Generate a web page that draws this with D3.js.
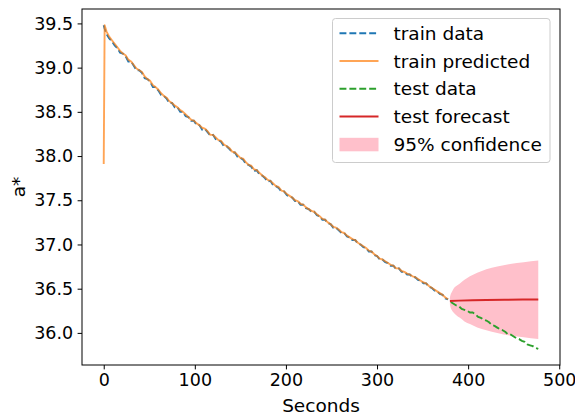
<!DOCTYPE html>
<html>
<head>
<meta charset="utf-8">
<script src="https://cdn.jsdelivr.net/npm/d3@7"></script>
<style>
  body { margin: 0; background: #fff; }
  svg { display: block; font-family: 'DejaVu Sans', sans-serif; }
</style>
</head>
<body>
<script>
// sample times (s) of the training part: 0, 1, then every 3 s
const trainSeconds = [0, 1].concat(d3.range(3, 379, 3))
const trainData = [
  39.48, 39.44, 39.38, 39.33, 39.30, 39.25, 39.22, 39.17, 39.16, 39.13,
  39.07, 39.07, 39.02, 38.97, 38.97, 38.94, 38.88, 38.87, 38.84, 38.78,
  38.78, 38.74, 38.69, 38.68, 38.65, 38.60, 38.60, 38.55, 38.55, 38.50,
  38.50, 38.45, 38.44, 38.40, 38.40, 38.35, 38.35, 38.30, 38.31, 38.27,
  38.23, 38.24, 38.19, 38.18, 38.16, 38.11, 38.11, 38.08, 38.04, 38.04,
  37.99, 37.98, 37.96, 37.91, 37.90, 37.88, 37.83, 37.84, 37.79, 37.78,
  37.75, 37.71, 37.72, 37.67, 37.66, 37.64, 37.60, 37.60, 37.56, 37.54,
  37.53, 37.49, 37.49, 37.45, 37.45, 37.41, 37.40, 37.37, 37.37, 37.33,
  37.32, 37.28, 37.28, 37.24, 37.23, 37.19, 37.19, 37.16, 37.13, 37.13,
  37.09, 37.08, 37.05, 37.05, 37.01, 37.00, 36.97, 36.96, 36.92, 36.92,
  36.88, 36.87, 36.83, 36.83, 36.80, 36.79, 36.76, 36.76, 36.72, 36.73,
  36.69, 36.69, 36.66, 36.66, 36.63, 36.63, 36.60, 36.59, 36.56, 36.56,
  36.52, 36.51, 36.48, 36.47, 36.44, 36.43, 36.39, 36.38
]
const trainPredicted = [
  37.91,
  39.48, 39.41, 39.35, 39.31, 39.27, 39.23, 39.19, 39.16, 39.14, 39.09,
  39.07, 39.03, 38.99, 38.97, 38.95, 38.90, 38.87, 38.85, 38.80, 38.78,
  38.75, 38.71, 38.68, 38.66, 38.62, 38.60, 38.57, 38.55, 38.52, 38.50,
  38.47, 38.44, 38.41, 38.40, 38.37, 38.35, 38.32, 38.31, 38.28, 38.24,
  38.24, 38.21, 38.18, 38.17, 38.13, 38.11, 38.09, 38.05, 38.04, 38.01,
  37.98, 37.97, 37.93, 37.90, 37.89, 37.85, 37.84, 37.81, 37.78, 37.76,
  37.73, 37.72, 37.69, 37.66, 37.65, 37.61, 37.60, 37.57, 37.55, 37.53,
  37.50, 37.49, 37.46, 37.45, 37.42, 37.40, 37.38, 37.37, 37.34, 37.32,
  37.29, 37.28, 37.25, 37.23, 37.20, 37.19, 37.17, 37.14, 37.13, 37.10,
  37.08, 37.06, 37.05, 37.02, 37.00, 36.98, 36.96, 36.93, 36.92, 36.89,
  36.87, 36.84, 36.83, 36.81, 36.79, 36.77, 36.76, 36.73, 36.73, 36.70,
  36.69, 36.67, 36.66, 36.64, 36.63, 36.61, 36.59, 36.57, 36.56, 36.53,
  36.51, 36.49, 36.47, 36.45, 36.43, 36.40, 36.38
]

const testSeconds = d3.range(381, 478, 3)
const testData = [
  36.35, 36.33, 36.31, 36.30, 36.27, 36.26, 36.25, 36.23, 36.23, 36.21,
  36.18, 36.17, 36.15, 36.14, 36.12, 36.09, 36.08, 36.06, 36.04, 36.03,
  36.01, 35.98, 35.98, 35.96, 35.94, 35.93, 35.91, 35.90, 35.87, 35.86,
  35.85, 35.83, 35.82
]

const forecastSeconds = [380, 390, 405, 420, 440, 460, 477]
const forecastValues = [36.360, 36.365, 36.370, 36.372, 36.375, 36.377, 36.378]

const ciSeconds = [380, 381, 382, 384, 387, 391, 396, 402, 410, 420, 432, 446, 461, 477]
const ciUpper = [36.40, 36.44, 36.46, 36.50, 36.53, 36.56, 36.60, 36.64, 36.68, 36.72, 36.75, 36.78, 36.80, 36.82]
const ciLower = [36.32, 36.28, 36.26, 36.23, 36.20, 36.17, 36.13, 36.10, 36.06, 36.03, 36.00, 35.97, 35.95, 35.93]

const xTicks = [0, 100, 200, 300, 400, 500]
const yTicks = [36.0, 36.5, 37.0, 37.5, 38.0, 38.5, 39.0, 39.5]

const legendItems = [
  {label: 'train data', color: '#1f77b4', dash: '6.9,3', kind: 'line'},
  {label: 'train predicted', color: '#ff7f0e', opacity: 0.7, kind: 'line'},
  {label: 'test data', color: '#2ca02c', dash: '6.9,3', kind: 'line'},
  {label: 'test forecast', color: '#d62728', kind: 'line'},
  {label: '95% confidence', color: 'pink', kind: 'patch'}
]

const W = 575
const H = 416
const plot = {left: 82, right: 560, top: 9, bottom: 365}

// matplotlib style 5% margins around the data extent
const xExt = [0, 477]
const yExt = d3.extent(trainData.concat(testData, ciUpper, ciLower))
const xPad = (xExt[1] - xExt[0]) * 0.05
const yPad = (yExt[1] - yExt[0]) * 0.05

const x = d3.scaleLinear().domain([xExt[0] - xPad, xExt[1] + xPad]).range([plot.left, plot.right])
const y = d3.scaleLinear().domain([yExt[0] - yPad, yExt[1] + yPad]).range([plot.bottom, plot.top])

const svg = d3.select('body').append('svg').attr('width', W).attr('height', H)

const clip = svg.append('clipPath').attr('id', 'clip')
clip.append('rect').attr('x', plot.left).attr('y', plot.top)
  .attr('width', plot.right - plot.left).attr('height', plot.bottom - plot.top)

const g = svg.append('g').attr('clip-path', 'url(#clip)')

const line = d3.line().x(d => x(d[0])).y(d => y(d[1]))
const zip = (a, b) => a.map((v, i) => [v, b[i]])

// confidence band
const area = d3.area()
  .x((d, i) => x(ciSeconds[i]))
  .y0((d, i) => y(ciLower[i]))
  .y1((d, i) => y(ciUpper[i]))
  .curve(d3.curveMonotoneX)
g.append('path').datum(ciSeconds).attr('d', area).attr('fill', 'pink')

g.append('path').datum(zip(trainSeconds, trainData)).attr('d', line)
  .attr('fill', 'none').attr('stroke', '#1f77b4').attr('stroke-width', 1.9)
  .attr('stroke-dasharray', '6.9,3')

g.append('path').datum(zip(trainSeconds, trainPredicted)).attr('d', line)
  .attr('fill', 'none').attr('stroke', '#ff7f0e').attr('stroke-opacity', 0.7)
  .attr('stroke-width', 1.9).attr('stroke-linejoin', 'round')

g.append('path').datum(zip(testSeconds, testData)).attr('d', line)
  .attr('fill', 'none').attr('stroke', '#2ca02c').attr('stroke-width', 1.9)
  .attr('stroke-dasharray', '6.9,3')

g.append('path').datum(zip(forecastSeconds, forecastValues)).attr('d', line)
  .attr('fill', 'none').attr('stroke', '#d62728').attr('stroke-width', 1.9)

// axes
const xAxis = svg.append('g').attr('transform', 'translate(0,' + plot.bottom + ')')
  .call(d3.axisBottom(x).tickValues(xTicks).tickSize(4.4).tickPadding(4.4).tickFormat(d3.format('d')))
const yAxis = svg.append('g').attr('transform', 'translate(' + plot.left + ',0)')
  .call(d3.axisLeft(y).tickValues(yTicks).tickSize(4.4).tickPadding(4.4).tickFormat(d3.format('.1f')))

;[xAxis, yAxis].forEach(a => {
  a.select('.domain').remove()
  a.selectAll('line').attr('stroke', '#000').attr('stroke-width', 1)
  a.selectAll('text').attr('fill', '#000').style('font-size', '17.5px').style('font-family', 'DejaVu Sans')
})

svg.append('rect').attr('x', plot.left).attr('y', plot.top)
  .attr('width', plot.right - plot.left).attr('height', plot.bottom - plot.top)
  .attr('fill', 'none').attr('stroke', '#000').attr('stroke-width', 1)

svg.append('text').attr('x', (plot.left + plot.right) / 2).attr('y', 412)
  .attr('text-anchor', 'middle').style('font-size', '18.5px').text('Seconds')

svg.append('text').attr('transform', 'translate(25,' + (plot.top + plot.bottom) / 2 + ') rotate(-90)')
  .attr('text-anchor', 'middle').style('font-size', '18.5px').text('a*')

// legend
const legend = svg.append('g')
legend.append('rect').attr('x', 332.5).attr('y', 18.5).attr('width', 217.5).attr('height', 144)
  .attr('rx', 3).attr('fill', '#fff').attr('fill-opacity', 0.8)
  .attr('stroke', '#ccc').attr('stroke-width', 1)

legendItems.forEach((item, i) => {
  const cy = 33.3 + i * 27.75
  if (item.kind === 'patch') {
    legend.append('rect').attr('x', 339.5).attr('y', cy - 6.5).attr('width', 39).attr('height', 13.5)
      .attr('fill', item.color)
  } else {
    legend.append('line').attr('x1', 339.5).attr('x2', 378.5).attr('y1', cy).attr('y2', cy)
      .attr('stroke', item.color).attr('stroke-width', 1.9)
      .attr('stroke-opacity', item.opacity || 1)
      .attr('stroke-dasharray', item.dash || null)
  }
  legend.append('text').attr('x', 393.5).attr('y', cy).attr('dy', '0.36em')
    .style('font-size', '18.5px').text(item.label)
})
</script>
</body>
</html>
